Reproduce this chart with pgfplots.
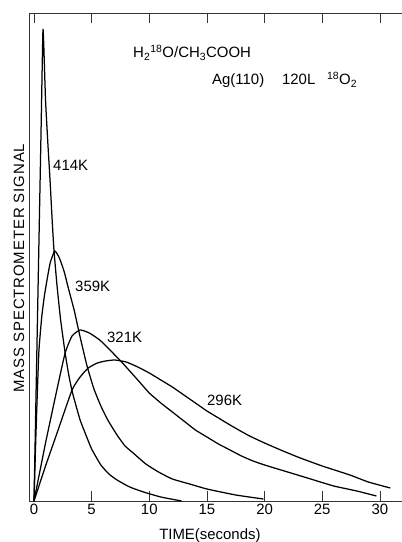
\documentclass[border=0pt]{standalone}
\usepackage{fontspec}
\setmainfont{Liberation Sans}
\usepackage{pgfplots}
\usepackage{pgfplotstable}
\pgfplotsset{compat=1.18}

\pgfplotstableread{
x y
0 0
0.2 121
0.4 242
0.6 363
0.72 440
0.78 472
0.85 455
1.0 401
1.2 358
1.39 321
1.56 284
1.73 251
2.0 215
2.3 182
2.7 148
3.0 127
3.3 110
3.7 93
4.0 81
4.4 69
5.0 52
5.8 36
6.5 27
7.2 21
8.3 14
9.5 9
11.0 4
12.8 0
}\tfourfourteen

\pgfplotstableread{
x y
0 0
0.15 60
0.3 112
0.43 151
0.67 184
0.9 205
1.1 219
1.4 238
1.8 250
2.2 243
2.6 230
3.0 212
3.5 190
4.0 164
4.6 135
5.2 112
5.8 95
6.4 81
7.2 66
7.9 55
8.6 48
9.7 37
10.8 29
12.0 22
13.5 17
15.0 12
17.5 6
19.9 2
}\tthreefiftynine

\pgfplotstableread{
x y
0 0
1 58
2 112
2.7 148
3.3 165
4.0 171
4.8 168
5.7 161
6.5 152
7.6 139
9.0 121
10.0 108
11.0 98
12.0 89
13.0 80
14.0 71
15.0 64
16.0 57
17.0 51
18.0 45
19.0 40
20.0 36
22.0 29
24.0 22
26.0 15
28.0 10
29.7 5
}\tthreetwentyone

\pgfplotstableread{
x y
0 0
1 35
2 68
3.3 111
4.0 124
4.7 133
5.5 138
6.2 140
7.0 141
8.0 139
9.0 134
10.0 128
11.0 121
12.0 114
13.0 106
14.0 98
15.0 90
16.0 83
17.3 74
18.7 65
20.0 58
21.6 50
23.1 43
25.0 35
27.4 26
29.0 19
30.9 13
}\ttwoninetysix

\begin{document}
\begin{tikzpicture}[font=\fontsize{15}{18}\selectfont]
\begin{axis}[
  scale only axis, width=373bp, height=488bp,
  xmin=-0.434, xmax=31.92, ymin=0, ymax=488,
  axis x line=box, axis y line=left,
  axis line style={-, line width=0.6bp, black!80},
  xtick={0,5,...,30}, ytick=\empty,
  tick align=inside, major tick length=10bp,
  tick style={line width=0.6bp, black!80},
  xticklabel pos=lower,
  /pgf/number format/assume math mode=true,
  tick label style={font=\fontsize{15}{18}\selectfont},
  xlabel={TIME(seconds)},
  ylabel={\addfontfeatures{LetterSpace=6}MASS SPECTROMETER SIGNAL},
  every axis x label/.style={at={(axis description cs:0.485,0)}, anchor=base, yshift=-38bp},
  every axis y label/.style={at={(axis description cs:-0.027,0.477)}, anchor=center, rotate=90},
  clip=false,
]
\addplot[black, line width=1.25bp, smooth, tension=0.3] table {\tfourfourteen};
\addplot[black, line width=1.25bp, smooth, tension=0.3] table {\tthreefiftynine};
\addplot[black, line width=1.25bp, smooth, tension=0.3] table {\tthreetwentyone};
\addplot[black, line width=1.25bp, smooth, tension=0.3] table {\ttwoninetysix};

\node[anchor=west, inner sep=0] at (axis cs:1.65,336) {414K};
\node[anchor=west, inner sep=0] at (axis cs:3.56,215) {359K};
\node[anchor=west, inner sep=0] at (axis cs:6.33,164) {321K};
\node[anchor=west, inner sep=0] at (axis cs:15.0,101) {296K};
\node[anchor=base west, inner sep=0] at (axis cs:8.59,443) {H\textsubscript{2}\textsuperscript{18}O/CH\textsubscript{3}COOH};
\node[anchor=base west, inner sep=0] at (axis cs:15.44,416) {Ag(110)};
\node[anchor=base west, inner sep=0] at (axis cs:21.5,416) {120L};
\node[anchor=base west, inner sep=0] at (axis cs:25.4,416) {\textsuperscript{18}O\textsubscript{2}};
\end{axis}
\pgfresetboundingbox
\path ([shift={(-29bp,-41bp)}]current axis.south west) rectangle ([shift={(0bp,13bp)}]current axis.north east);
\end{tikzpicture}
\end{document}
